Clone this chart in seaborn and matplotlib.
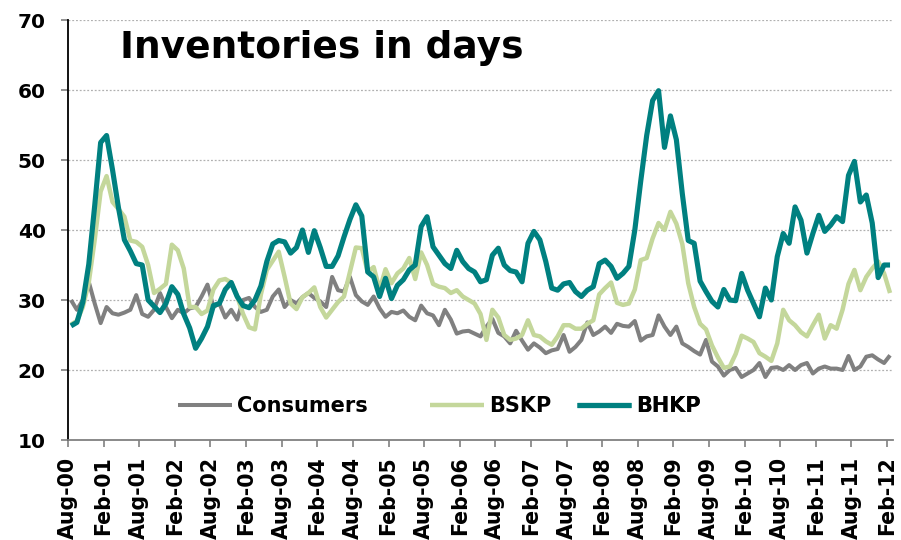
import numpy as np
import pandas as pd
import matplotlib
matplotlib.use("Agg")
import matplotlib.pyplot as plt
import seaborn as sns

# ---- data (monthly, Aug-00 .. Feb-12) ----
tick_labels = ["Aug-00", "Feb-01", "Aug-01", "Feb-02", "Aug-02", "Feb-03", "Aug-03", "Feb-04",
               "Aug-04", "Feb-05", "Aug-05", "Feb-06", "Aug-06", "Feb-07", "Aug-07", "Feb-08",
               "Aug-08", "Feb-09", "Aug-09", "Feb-10", "Aug-10", "Feb-11", "Aug-11", "Feb-12"]

consumers = [30, 28.6, 30, 32.6, 29.5, 26.7, 29, 28.1, 27.9, 28.2, 28.6, 30.7, 28, 27.6, 28.6, 31,
             29, 27.4, 28.6, 28.1, 28.8, 29, 30.5, 32.2, 29, 29.5, 27.5, 28.6, 27.2, 30, 30.3, 29,
             28.3, 28.6, 30.5, 31.5, 29, 30, 29.5, 30.4, 31, 30.3, 29.8, 29, 33.3, 31.4, 31.2, 33.3,
             30.7, 29.8, 29.3, 30.5, 28.8, 27.6, 28.3, 28.1, 28.5, 27.6, 27.1, 29.2, 28.1, 27.8, 26.4,
             28.6, 27.2, 25.2, 25.5, 25.6, 25.2, 24.8, 26.2, 27.3, 25.3, 24.8, 23.8, 25.6, 24.2, 22.9,
             23.8, 23.2, 22.4, 22.8, 23, 25, 22.6, 23.3, 24.3, 26.8, 25, 25.5, 26.2, 25.3, 26.6, 26.3,
             26.2, 27, 24.2, 24.8, 25, 27.8, 26.2, 25, 26.2, 23.8, 23.3, 22.7, 22.2, 24.3, 21.2, 20.5,
             19.2, 20, 20.3, 19, 19.5, 20, 21, 19, 20.3, 20.4, 20, 20.7, 20, 20.7, 21, 19.5, 20.2, 20.5,
             20.2, 20.2, 20, 22, 20, 20.5, 21.9, 22.1, 21.5, 21, 22.1]

bskp = [26.5, 27, 29, 32.5, 38.6, 45.5, 47.7, 44, 43, 41.9, 38.5, 38.3, 37.6, 35, 31, 31.6, 32.3,
        37.9, 37.1, 34.5, 29, 29, 28, 28.5, 31.5, 32.8, 33, 32.5, 30.5, 28, 26.1, 25.8, 30.8, 34.3,
        35.6, 36.9, 33.3, 29.5, 28.7, 30.4, 31, 31.8, 29, 27.5, 28.6, 29.7, 30.5, 34, 37.5, 37.4,
        34, 34.7, 31.5, 34.4, 32.4, 33.8, 34.5, 36, 33, 36.8, 35, 32.3, 31.9, 31.7, 31, 31.4, 30.5,
        30, 29.5, 28, 24.3, 28.6, 27.5, 25, 24.3, 24.5, 25, 27.1, 25, 24.8, 24.1, 23.6, 24.8, 26.4,
        26.4, 25.9, 25.9, 26.6, 27.1, 30.8, 31.7, 32.5, 29.6, 29.3, 29.5, 31.5, 35.7, 36, 38.8, 41,
        40, 42.6, 40.9, 38, 32.4, 29, 26.6, 25.8, 23.5, 21.8, 20.3, 20.5, 22.3, 24.9, 24.5, 24,
        22.4, 21.9, 21.3, 23.8, 28.6, 27.1, 26.4, 25.4, 24.8, 26.4, 27.9, 24.5, 26.4, 25.9, 28.6,
        32.3, 34.3, 31.4, 33.3, 34.5, 35.5, 33.8, 31]

bhkp = [26.3, 26.8, 29.7, 35.1, 43.5, 52.5, 53.5, 48.6, 43.2, 38.6, 37, 35.2, 35, 30, 29.1, 28.2,
        29.5, 31.9, 30.8, 28, 26, 23.1, 24.5, 26.2, 29.2, 29.5, 31.5, 32.5, 30.5, 29.2, 28.9, 30,
        32, 35.5, 38, 38.5, 38.3, 36.7, 37.5, 40, 36.8, 39.9, 37.5, 34.8, 34.8, 36.3, 39, 41.5, 43.6,
        42, 34, 33.3, 30.5, 33.1, 30.2, 32.1, 32.9, 34.3, 35, 40.5, 41.9, 37.6, 36.4, 35.2, 34.5,
        37.1, 35.5, 34.5, 34, 32.6, 32.9, 36.4, 37.4, 35, 34.2, 34, 32.6, 38.1, 39.8, 38.6, 35.5,
        31.7, 31.4, 32.3, 32.5, 31.2, 30.5, 31.4, 31.9, 35.2, 35.7, 34.8, 33.1, 33.8, 34.8, 40, 47,
        53.5, 58.5, 59.9, 51.8, 56.3, 52.9, 45.2, 38.5, 38.1, 32.7, 31.2, 29.8, 29, 31.5, 30, 29.9,
        33.8, 31.4, 29.5, 27.6, 31.7, 30, 36.2, 39.5, 38.1, 43.3, 41.4, 36.7, 39.5, 42.1, 39.8,
        40.7, 41.9, 41.2, 47.8, 49.8, 44, 45, 41, 33.2, 35, 35]

series_names = ["Consumers", "BSKP", "BHKP"]
colors = {"Consumers": "#808080", "BSKP": "#C4D79B", "BHKP": "#008080"}
widths = {"Consumers": 2.9, "BSKP": 3.2, "BHKP": 3.7}

n = len(bhkp)
pos = np.arange(n) + 0.5  # points centred between category tick marks
df = pd.DataFrame({
    "pos": np.concatenate([pos, pos, pos]),
    "value": consumers + bskp + bhkp,
    "series": ["Consumers"] * n + ["BSKP"] * n + ["BHKP"] * n,
})

sns.set_style("white")
plt.rcParams["font.family"] = ["DejaVu Sans"]
plt.rcParams["text.color"] = "black"
plt.rcParams["xtick.labelcolor"] = "black"
plt.rcParams["ytick.labelcolor"] = "black"

fig = plt.figure(figsize=(9.01, 5.40), dpi=100)
ax = fig.add_axes([68 / 901, 1 - 440 / 540, (893 - 68) / 901, 420 / 540])

for name in series_names:
    sns.lineplot(data=df[df["series"] == name], x="pos", y="value", ax=ax,
                 color=colors[name], linewidth=widths[name], label=name,
                 legend=False, solid_joinstyle="round", solid_capstyle="butt")

ax.set_xlim(0, n)
ax.set_ylim(10, 70)
ax.set_yticks(range(10, 71, 10))
ax.set_xticks(np.arange(0, n, 6))
ax.set_xticklabels(tick_labels, rotation=90, fontweight="bold", fontsize=14.8, color="black")
ax.set_yticklabels([str(v) for v in range(10, 71, 10)], fontweight="bold", fontsize=14.5,
                   color="black")
ax.set_xlabel("")
ax.set_ylabel("")

for y in range(20, 71, 10):
    ax.axhline(y, color="#B0B0B0", linewidth=0.9, linestyle=(0, (1.5, 1.5)), zorder=0)

for s in ["top", "right"]:
    ax.spines[s].set_visible(False)
ax.spines["left"].set_color("black")
ax.spines["left"].set_linewidth(1.3)
ax.spines["bottom"].set_color("#808080")
ax.spines["bottom"].set_linewidth(1.3)
ax.tick_params(axis="x", direction="out", length=5, width=1.2, color="#808080", pad=7,
               bottom=True, labelcolor="black")
ax.tick_params(axis="y", direction="out", length=5, width=1.2, color="#808080", pad=11,
               left=True, labelcolor="black")

ax.text((120 - 68) / 825, (440 - 58) / 420, "Inventories in days", transform=ax.transAxes,
        fontsize=27, fontweight="bold", ha="left", va="baseline", color="black")

lines = {l.get_label(): l for l in ax.get_lines()}
anchors = {"Consumers": 178, "BSKP": 430, "BHKP": 577}
for name in series_names:
    h = lines[name]
    leg = ax.legend([h], [name], loc="center left",
                    bbox_to_anchor=((anchors[name] - 68) / 825, (440 - 406) / 420),
                    frameon=False, borderpad=0, borderaxespad=0, handlelength=2.6,
                    handletextpad=0.25, labelcolor="black",
                    prop={"weight": "bold", "size": 15})
    ax.add_artist(leg)

fig.savefig("out.png", dpi=100)
